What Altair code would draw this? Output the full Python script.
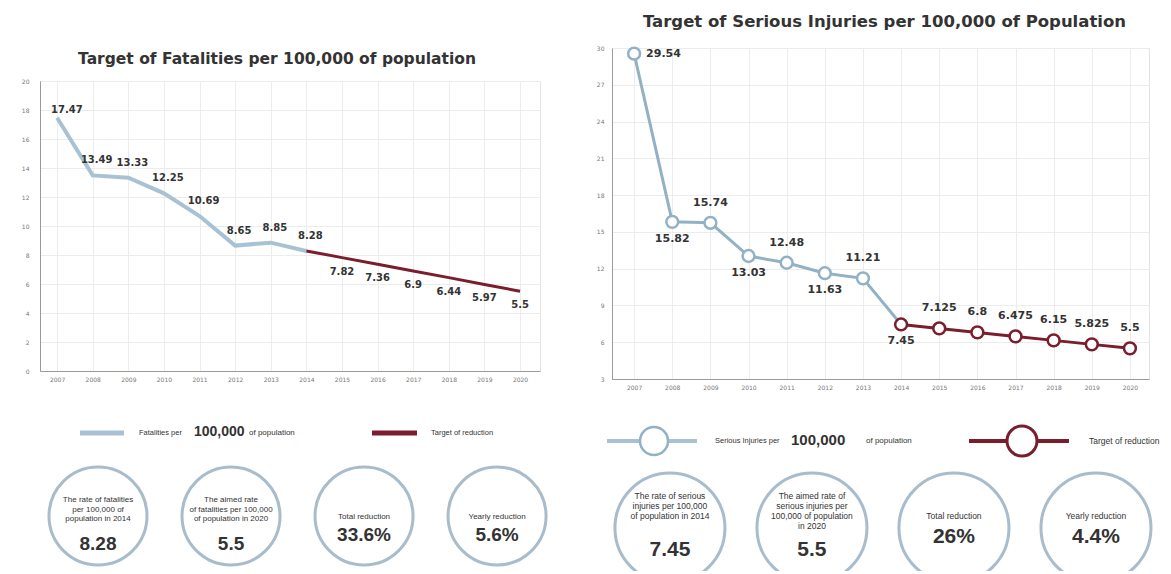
import altair as alt
import pandas as pd

# ---------------- data ----------------
FAT_YEARS = [2007, 2008, 2009, 2010, 2011, 2012, 2013, 2014]
FAT_VALUES = [17.47, 13.49, 13.33, 12.25, 10.69, 8.65, 8.85, 8.28]
FAT_TARGET_YEARS = [2014, 2015, 2016, 2017, 2018, 2019, 2020]
FAT_TARGET_VALUES = [8.28, 7.82, 7.36, 6.9, 6.44, 5.97, 5.5]

INJ_YEARS = [2007, 2008, 2009, 2010, 2011, 2012, 2013, 2014]
INJ_VALUES = [29.54, 15.82, 15.74, 13.03, 12.48, 11.63, 11.21, 7.45]
INJ_TARGET_YEARS = [2014, 2015, 2016, 2017, 2018, 2019, 2020]
INJ_TARGET_VALUES = [7.45, 7.125, 6.8, 6.475, 6.15, 5.825, 5.5]

YEAR_TICKS = [2007, 2008, 2009, 2010, 2011, 2012, 2013, 2014, 2015, 2016, 2017, 2018, 2019, 2020]
FAT_Y_TICKS = [0, 2, 4, 6, 8, 10, 12, 14, 16, 18, 20]
INJ_Y_TICKS = [3, 6, 9, 12, 15, 18, 21, 24, 27, 30]

FAT_TITLE = "Target of Fatalities per 100,000 of population"
INJ_TITLE = "Target of Serious Injuries per 100,000 of Population"

# labels of the injuries series drawn under their point
INJ_BELOW = [2008, 2010, 2012, 2014]

FAT_CAPTIONS = [
    ["The rate of fatalities", "per 100,000 of", "population in 2014"],
    ["The aimed rate", "of fatalities per 100,000", "of population in 2020"],
    ["Total reduction"],
    ["Yearly reduction"],
]
FAT_NUMBERS = ["8.28", "5.5", "33.6%", "5.6%"]

INJ_CAPTIONS = [
    ["The rate of serious", "injuries per 100,000", "of population in 2014"],
    ["The aimed rate of", "serious injuries per", "100,000 of population", "in 2020"],
    ["Total reduction"],
    ["Yearly reduction"],
]
INJ_NUMBERS = ["7.45", "5.5", "26%", "4.4%"]

FAT_LEGEND = ["Fatalities per", "100,000", "of population", "Target of reduction"]
INJ_LEGEND = ["Serious Injuries per", "100,000", "of population", "Target of reduction"]

# ---------------- styles ----------------
BLUE = "#a9c2d3"
BLUE_DARK = "#93b1c5"
MAROON = "#7a1d2c"
RING = "#a8bccb"
TXT = "#333333"
AXIS = "#9a9a9a"
GRID = "#ececec"
LABEL_FONT = "DejaVu Sans"
SMALL_FONT = "Liberation Sans"

one = pd.DataFrame({"k": [0]})


def series_frame(years, vals, tyears, tvals):
    a = pd.DataFrame({"year": years, "value": vals, "series": "actual"})
    t = pd.DataFrame({"year": tyears, "value": tvals, "series": "target"})
    d = pd.concat([a, t], ignore_index=True)
    d["label"] = d["value"].map(lambda v: str(v))
    return d


def axes(xdomain, ydomain, yticks, ylabelpad):
    x = alt.X("year:Q",
              scale=alt.Scale(domain=xdomain, nice=False, zero=False),
              axis=alt.Axis(values=YEAR_TICKS, format="d", title=None, labelFontSize=6,
                            labelColor="#777", labelPadding=5, ticks=False,
                            domainColor=AXIS, gridColor=GRID, labelFont=LABEL_FONT,
                            labelFlush=False))
    y = alt.Y("value:Q",
              scale=alt.Scale(domain=ydomain, nice=False, zero=False),
              axis=alt.Axis(values=yticks, title=None, labelFontSize=6, labelColor="#777",
                            labelPadding=ylabelpad, ticks=False, domainColor=AXIS,
                            gridColor=GRID, labelFont=LABEL_FONT))
    return x, y


below_list = "[" + ",".join(str(y) for y in INJ_BELOW) + "]"

# ---------------- left line chart ----------------
fd = series_frame(FAT_YEARS, FAT_VALUES, FAT_TARGET_YEARS, FAT_TARGET_VALUES)
fx, fy = axes([2006.52, 2020.56], [0, 20], FAT_Y_TICKS, 11)
fbase = alt.Chart(fd).encode(x=fx, y=fy)

f_kw = dict(font=LABEL_FONT, fontWeight="bold", fontSize=10, color=TXT)
f_line = fbase.transform_filter("datum.series == 'actual'").mark_line(color=BLUE, strokeWidth=4)
f_target = fbase.transform_filter("datum.series == 'target'").mark_line(color=MAROON, strokeWidth=3)
f_lab_first = fbase.transform_filter(
    "datum.series == 'actual' && datum.year == 2007"
).mark_text(align="left", dx=-6, dy=-8, **f_kw).encode(text="label:N")
f_lab_a = fbase.transform_filter(
    "datum.series == 'actual' && datum.year > 2007"
).mark_text(dx=4, dy=-15, **f_kw).encode(text="label:N")
f_lab_t = fbase.transform_filter(
    "datum.series == 'target' && datum.year > 2014"
).mark_text(dy=14, **f_kw).encode(text="label:N")

left_line = alt.layer(f_line, f_target, f_lab_first, f_lab_a, f_lab_t).properties(
    width=500, height=290,
    title=alt.Title(FAT_TITLE, font=LABEL_FONT, fontSize=15.5, fontWeight="bold", color=TXT,
                    anchor="middle", offset=11, dx=-13),
)

# ---------------- right line chart ----------------
idf = series_frame(INJ_YEARS, INJ_VALUES, INJ_TARGET_YEARS, INJ_TARGET_VALUES)
ix, iy = axes([2006.42, 2020.5], [3, 30], INJ_Y_TICKS, 8)
ibase = alt.Chart(idf).encode(x=ix, y=iy)

i_line = ibase.transform_filter("datum.series == 'actual'").mark_line(color=BLUE_DARK, strokeWidth=3)
i_target = ibase.transform_filter("datum.series == 'target'").mark_line(color=MAROON, strokeWidth=3)
i_pts = ibase.transform_filter(
    "datum.series == 'actual' && datum.year < 2014"
).mark_point(shape="circle", size=140, fill="white", filled=True, stroke=BLUE_DARK,
             strokeWidth=2.5, opacity=1)
i_tpts = ibase.transform_filter("datum.series == 'target'").mark_point(
    shape="circle", size=140, fill="white", filled=True, stroke=MAROON, strokeWidth=2.5, opacity=1)

lab_kw = dict(font=LABEL_FONT, fontWeight="bold", fontSize=11, color=TXT)
i_lab_first = ibase.transform_filter(
    "datum.series == 'actual' && datum.year == 2007"
).mark_text(align="left", dx=12, **lab_kw).encode(text="label:N")
i_lab_above = ibase.transform_filter(
    "datum.year > 2007 && datum.year != 2014 && indexof(" + below_list + ", datum.year) < 0"
).mark_text(dy=-20, **lab_kw).encode(text="label:N")
i_lab_below = ibase.transform_filter(
    "datum.series == 'actual' && indexof(" + below_list + ", datum.year) >= 0"
).mark_text(dy=17, **lab_kw).encode(text="label:N")

right_line = alt.layer(i_line, i_target, i_pts, i_tpts, i_lab_first, i_lab_above, i_lab_below).properties(
    width=537, height=331,
    title=alt.Title(INJ_TITLE, font=LABEL_FONT, fontSize=16.5, fontWeight="bold", color=TXT,
                    anchor="middle", offset=12, dx=4),
)


# ---------------- bottom panels ----------------
def circles_frame(captions, numbers):
    return pd.DataFrame({
        "idx": list(range(len(numbers))),
        "caption": ["\n".join(c) for c in captions],
        "nlines": [len(c) for c in captions],
        "number": numbers,
    })


def bottom_panel(captions, numbers, xdomain, width, height, cy, size, cap_fs, num_fs,
                 multi_cap_y, multi_num_y, single_cap_y, single_num_y, legend_layers):
    cf = circles_frame(captions, numbers)
    x = alt.X("idx:Q", scale=alt.Scale(domain=xdomain, nice=False, zero=False), axis=None)
    base = alt.Chart(cf).encode(x=x)
    rings = base.mark_point(shape="circle", size=size, stroke=RING, strokeWidth=3,
                            filled=False, opacity=1, clip=True).encode(y=alt.value(cy))
    multi = base.transform_filter("datum.nlines > 1")
    single = base.transform_filter("datum.nlines == 1")
    cap_kw = dict(font=SMALL_FONT, fontSize=cap_fs, lineHeight=cap_fs + 1.5, color=TXT,
                  lineBreak="\n")
    num_kw = dict(font=SMALL_FONT, fontSize=num_fs, fontWeight="bold", color=TXT,
                  baseline="middle")
    layers = [
        rings,
        multi.mark_text(baseline="top", **cap_kw).encode(text="caption:N", y=alt.value(multi_cap_y)),
        single.mark_text(baseline="bottom", **cap_kw).encode(text="caption:N", y=alt.value(single_cap_y)),
        multi.mark_text(**num_kw).encode(text="number:N", y=alt.value(multi_num_y)),
        single.mark_text(**num_kw).encode(text="number:N", y=alt.value(single_num_y)),
    ] + legend_layers
    return alt.layer(*layers).properties(width=width, height=height,
                                         view=alt.ViewBackground(stroke="transparent"))


def swatch(x1, x2, y, color, sw):
    return alt.Chart(one).mark_rule(color=color, strokeWidth=sw).encode(
        x=alt.value(x1), x2=alt.value(x2), y=alt.value(y))


def legend_text(txt, x, y, fs, bold=False):
    return alt.Chart(one).mark_text(
        font=SMALL_FONT, fontSize=fs, fontWeight="bold" if bold else "normal",
        color=TXT, align="left", baseline="middle"
    ).encode(x=alt.value(x), y=alt.value(y), text=alt.value(txt))


def legend_ring(x, y, color, size, sw):
    return alt.Chart(one).mark_point(shape="circle", size=size, fill="white", filled=True,
                                     stroke=color, strokeWidth=sw, opacity=1).encode(
        x=alt.value(x), y=alt.value(y))


LY = 49
left_legend = [
    swatch(40, 84, LY, BLUE, 5),
    legend_text(FAT_LEGEND[0], 99, LY, 7.5),
    legend_text(FAT_LEGEND[1], 154, LY - 1, 14, bold=True),
    legend_text(FAT_LEGEND[2], 209, LY, 8),
    swatch(332, 377, LY, MAROON, 5),
    legend_text(FAT_LEGEND[3], 391, LY, 7.5),
]
left_bottom = bottom_panel(FAT_CAPTIONS, FAT_NUMBERS, [-0.436, 3.398], 510, 187, 132, 9604,
                           8, 19, 112, 160, 137, 151, left_legend)

right_legend = [
    swatch(-5, 85, LY, BLUE, 4),
    legend_ring(42, LY, BLUE_DARK, 784, 2.5),
    legend_text(INJ_LEGEND[0], 103, LY, 7.5),
    legend_text(INJ_LEGEND[1], 179, LY - 1, 15, bold=True),
    legend_text(INJ_LEGEND[2], 254, LY, 8),
    swatch(357, 457, LY, MAROON, 4),
    legend_ring(410, LY, MAROON, 900, 3),
    legend_text(INJ_LEGEND[3], 477, LY, 8.5),
]
right_bottom = bottom_panel(INJ_CAPTIONS, INJ_NUMBERS, [-0.408, 3.465], 550, 179, 136, 12100,
                            8.5, 21, 100, 158, 129, 145, right_legend)

spacer = alt.Chart(one).mark_rule(opacity=0).encode(
    x=alt.value(0), x2=alt.value(1), y=alt.value(1)
).properties(width=500, height=2, view=alt.ViewBackground(stroke="transparent"))

left_col = alt.vconcat(spacer, left_line, left_bottom, spacing=0)
right_col = alt.vconcat(right_line, right_bottom, spacing=0)

chart = alt.hconcat(left_col, right_col, spacing=44).properties(
    padding={"left": 20, "top": 13, "right": 0, "bottom": 0},
    background="white",
).configure_view(stroke="#e3e3e3")

chart.save("out.html", embed_options={"renderer": "svg", "actions": False})
